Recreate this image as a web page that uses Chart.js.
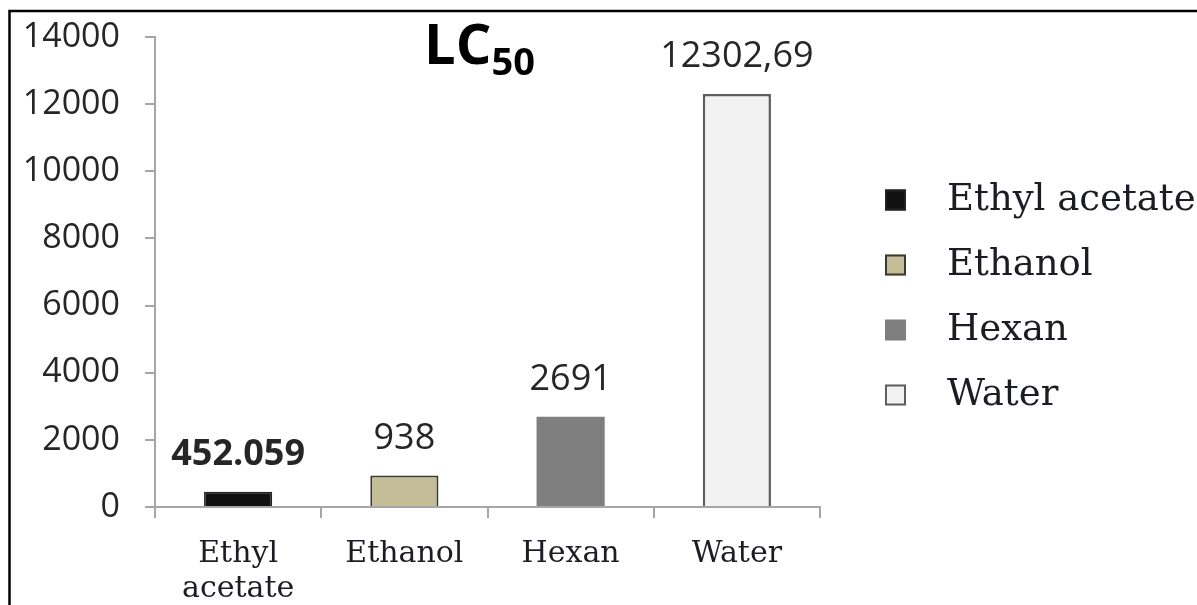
<!DOCTYPE html>
<html>
<head>
<meta charset="utf-8">
<script src="https://cdn.jsdelivr.net/npm/chart.js@4"></script>
<style>
  html, body { margin: 0; padding: 0; background: #fff; }
  canvas { display: block; }
</style>
</head>
<body>
<canvas id="lc50" width="1197" height="605"></canvas>
<script>
// LC50 of each extract (ug/ml)
const solvents = ['Ethyl acetate', 'Ethanol', 'Hexan', 'Water'];
const lc50 = [452.059, 938, 2691, 12302.69];
const valueText = ['452.059', '938', '2691', '12302,69'];
const yTicks = [0, 2000, 4000, 6000, 8000, 10000, 12000, 14000];

const fills = ['#111111', '#c4bd97', '#7f7f7f', '#f2f2f2'];
const edges = ['#222222', '#3b3a2e', '#7f7f7f', '#5e5e5e'];
const edgeWidths = [1.5, 2, 0, 2.5];

const serif = '"DejaVu Serif", "Liberation Serif", serif';
const sans = '"Open Sans", "Liberation Sans", sans-serif';
const axisGray = '#a6a6a6';

// frame, title, value labels and the legend on the right
const decorations = {
    id: 'decorations',
    afterDraw(chart) {
        const ctx = chart.ctx;
        const area = chart.chartArea;
        ctx.save();

        // black frame (left and top edge)
        ctx.strokeStyle = '#000';
        ctx.lineWidth = 2.5;
        ctx.beginPath();
        ctx.moveTo(9.5, 605);
        ctx.lineTo(9.5, 11);
        ctx.lineTo(1197, 11);
        ctx.stroke();

        // title: LC with subscript 50
        ctx.fillStyle = '#000';
        ctx.textBaseline = 'alphabetic';
        ctx.textAlign = 'left';
        ctx.font = 'bold 56px ' + sans;
        const wMain = ctx.measureText('LC').width;
        ctx.font = 'bold 38px ' + sans;
        const wSub = ctx.measureText('50').width;
        const tx = (area.left + area.right) / 2 - 8 - (wMain + wSub) / 2;
        ctx.font = 'bold 56px ' + sans;
        ctx.fillText('LC', tx, 64);
        ctx.font = 'bold 38px ' + sans;
        ctx.fillText('50', tx + wMain, 75);

        // value labels above the bars
        const meta = chart.getDatasetMeta(0);
        ctx.textAlign = 'center';
        ctx.textBaseline = 'middle';
        ctx.fillStyle = '#262626';
        meta.data.forEach((bar, i) => {
            ctx.font = (i === 0 ? 'bold ' : '') + '36px ' + sans;
            ctx.fillText(valueText[i], bar.x, bar.y - 37);
        });

        // legend
        ctx.textAlign = 'left';
        ctx.font = '37px ' + serif;
        solvents.forEach((name, i) => {
            const cy = 200 + i * 65;
            ctx.fillStyle = fills[i];
            ctx.fillRect(885, cy - 10.5, 21, 21);
            if (edgeWidths[i] > 0) {
                ctx.strokeStyle = edges[i];
                ctx.lineWidth = 2;
                ctx.strokeRect(886, cy - 9.5, 19, 19);
            }
            ctx.fillStyle = '#1c1c24';
            ctx.fillText(name, 947, cy);
        });

        ctx.restore();
    }
};

new Chart(document.getElementById('lc50'), {
    type: 'bar',
    data: {
        labels: solvents.map(s => s.split(' ')),
        datasets: [{
            data: lc50,
            backgroundColor: fills,
            borderColor: edges,
            borderWidth: edgeWidths,
            barPercentage: 0.41,
            categoryPercentage: 1
        }]
    },
    options: {
        responsive: false,
        animation: false,
        devicePixelRatio: 1,
        layout: { padding: { left: 0, top: 37, right: 377, bottom: 0 } },
        plugins: {
            legend: { display: false },
            tooltip: { enabled: false }
        },
        scales: {
            x: {
                afterFit: (scale) => { scale.height = 98; },
                grid: {
                    offset: true,
                    drawOnChartArea: false,
                    tickLength: 11,
                    color: axisGray,
                    lineWidth: 2
                },
                border: { color: axisGray, width: 2 },
                ticks: {
                    autoSkip: false,
                    maxRotation: 0,
                    padding: 19,
                    color: '#1c1c24',
                    font: { family: serif, size: 30, lineHeight: 1.15 }
                }
            },
            y: {
                min: 0,
                max: 14000,
                afterFit: (scale) => {
                    // fixed axis width; don't let the tick padding push the top down
                    scale.width = 155;
                    scale.paddingTop = 0;
                    scale.paddingBottom = 0;
                },
                afterBuildTicks: (scale) => { scale.ticks = yTicks.map(v => ({ value: v })); },
                grid: {
                    drawOnChartArea: false,
                    tickLength: 10,
                    color: axisGray,
                    lineWidth: 2
                },
                border: { color: axisGray, width: 2 },
                ticks: {
                    padding: 25,
                    color: '#262626',
                    font: { family: sans, size: 34 },
                    callback: (v) => String(v)
                }
            }
        }
    },
    plugins: [decorations]
});
</script>
</body>
</html>
